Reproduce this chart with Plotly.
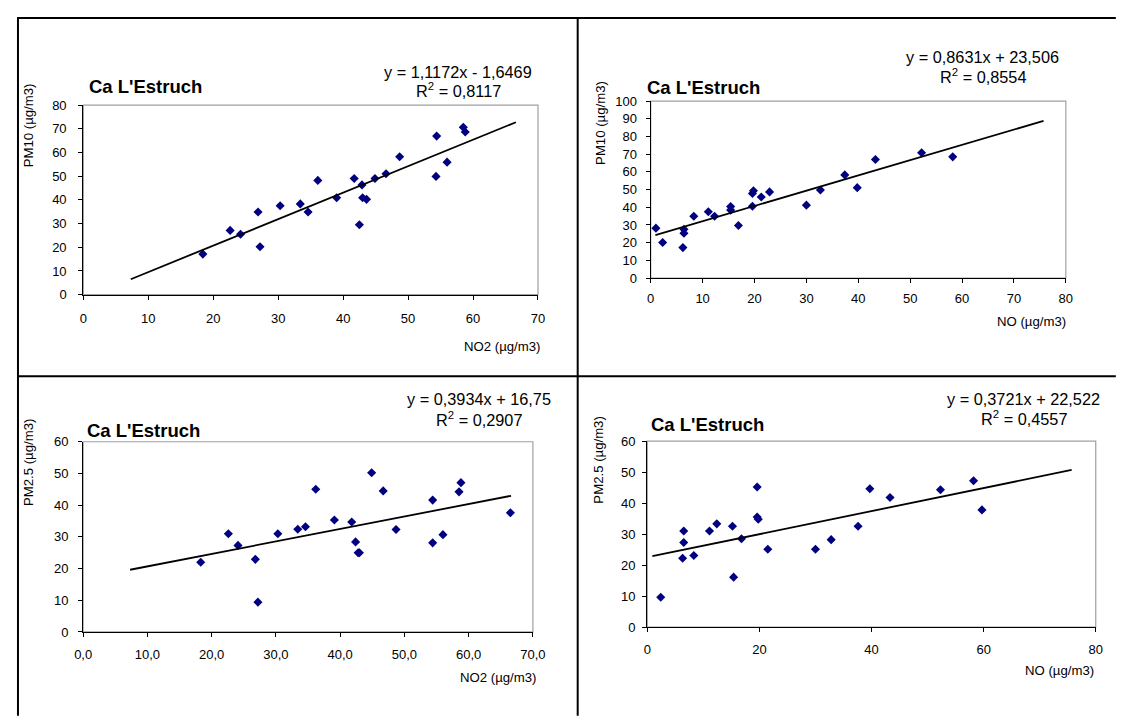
import plotly.graph_objects as go

# The page keeps the browser's default 8 px body margin, so the figure is sized
# to fill the 1129x724 window exactly inside that margin.
PAGE_W, PAGE_H = 1129, 724
OFF = 8
W, H = PAGE_W - 2 * OFF, PAGE_H - 2 * OFF

# ---------------- data ----------------
site = "Ca L'Estruch"

no2_a = [18.4, 22.6, 24.2, 26.9, 27.2, 30.3, 33.4, 34.6, 36.1, 39.0, 41.7, 42.5, 42.9, 43.0, 43.6, 44.9, 46.6, 48.7, 54.3, 54.4, 56.0, 58.5, 58.8]
pm10_a = [17.1, 27.1, 25.5, 34.9, 20.2, 37.5, 38.3, 34.9, 48.2, 40.9, 49.0, 29.5, 46.3, 40.9, 40.2, 49.0, 51.0, 58.2, 49.9, 66.9, 55.9, 70.6, 68.6]

no_b = [1.0, 2.3, 6.2, 6.4, 6.4, 8.3, 11.1, 12.3, 15.4, 15.4, 16.9, 19.6, 19.6, 19.8, 21.3, 22.9, 30.0, 32.7, 37.4, 39.8, 43.3, 52.2, 58.2]
pm10_b = [28.2, 20.1, 17.2, 27.5, 25.3, 34.9, 37.5, 34.9, 40.4, 38.4, 29.7, 40.6, 47.8, 49.3, 45.8, 48.7, 41.2, 49.8, 58.3, 51.1, 67.0, 70.8, 68.5]

no2_c = [18.3, 22.6, 24.1, 26.8, 27.2, 30.3, 33.4, 34.6, 36.2, 39.1, 41.8, 42.4, 42.8, 43.0, 44.9, 46.7, 48.7, 54.4, 54.4, 56.0, 58.5, 58.8, 66.5]
pm25_c = [22.0, 31.0, 27.3, 22.9, 9.4, 31.0, 32.4, 33.2, 45.0, 35.3, 34.7, 28.4, 25.0, 25.0, 50.2, 44.5, 32.3, 41.6, 28.1, 30.7, 44.2, 47.1, 37.6]

no_d = [2.4, 6.3, 6.5, 6.5, 8.3, 11.1, 12.4, 15.2, 15.4, 16.8, 19.6, 19.6, 19.8, 21.5, 30.0, 32.8, 37.6, 39.7, 43.3, 52.3, 58.2, 59.7]
pm25_d = [9.6, 22.2, 27.3, 31.0, 23.1, 31.0, 33.3, 32.5, 16.1, 28.5, 45.2, 35.5, 34.8, 25.1, 25.1, 28.2, 32.5, 44.6, 41.8, 44.3, 47.2, 37.8]

# trend lines (slope, intercept) and x extent
slopes = [1.1172, 0.8631, 0.3934, 0.3721]
intercepts = [-1.6469, 23.506, 16.75, 22.522]
trend_x = [[7.3, 66.6], [0.9, 75.7], [7.3, 66.6], [0.9, 75.7]]
eq_text = ["y = 1,1172x - 1,6469", "y = 0,8631x + 23,506", "y = 0,3934x + 16,75", "y = 0,3721x + 22,522"]
r2_text = ["R<sup>2</sup> = 0,8117", "R<sup>2</sup> = 0,8554", "R<sup>2</sup> = 0,2907", "R<sup>2</sup> = 0,4557"]
x_titles = ["NO2 (µg/m3)", "NO (µg/m3)", "NO2 (µg/m3)", "NO (µg/m3)"]
y_titles = ["PM10 (µg/m3)", "PM10 (µg/m3)", "PM2.5 (µg/m3)", "PM2.5 (µg/m3)"]
x_ranges = [[0, 70], [0, 80], [0, 70], [0, 80]]
y_ranges = [[0, 80], [0, 100], [0, 60], [0, 60]]
x_dticks = [10, 10, 10, 20]
y_dticks = [10, 10, 10, 10]
x_formats = ["d", "d", ".1f", "d"]

# ---------------- layout helpers (page pixel positions) ----------------
def px(x):
    return (x - OFF) / W

def py(y):
    return 1 - (y - OFF) / H

# plot area boxes: left, right, top, bottom (page pixels)
boxes = [
    (75.7, 539.5, 100.0, 293.7),
    (654.5, 1078.0, 96.0, 276.7),
    (75.5, 534.3, 444.0, 638.3),
    (651.0, 1108.5, 443.3, 633.3),
]
x_standoff = [8, 4, 6, 6]
y_standoff = [9, 6, 7, 4]
title_pos = [(79, 81), (649, 82), (77, 433), (653, 426)]
eq_pos = [(458, 66, 85), (993, 51, 70), (479, 400, 421), (1035, 400, 420)]
xt_pos = [(544, 347), (1080, 321), (539, 685), (1109, 678)]
yt_pos = [(20, 121), (603, 118), (20, 465), (601, 463)]

FONT = "Liberation Sans, Arial, sans-serif"
series = [(no2_a, pm10_a), (no_b, pm10_b), (no2_c, pm25_c), (no_d, pm25_d)]

fig = go.Figure()
shapes = []
annotations = []

for i in range(4):
    xa = "x" if i == 0 else f"x{i+1}"
    ya = "y" if i == 0 else f"y{i+1}"
    xs, ys = series[i]
    fig.add_trace(go.Scatter(
        x=xs, y=ys, mode="markers", xaxis=xa, yaxis=ya,
        marker=dict(symbol="diamond", size=7, color="#000080"),
        showlegend=False, hoverinfo="x+y"))
    tx = trend_x[i]
    ty = [slopes[i] * v + intercepts[i] for v in tx]
    fig.add_trace(go.Scatter(
        x=tx, y=ty, mode="lines", xaxis=xa, yaxis=ya,
        line=dict(color="black", width=1.8), showlegend=False, hoverinfo="skip"))

    l, r, t, b = boxes[i]
    axis_common = dict(showgrid=False, zeroline=False, showline=True, linecolor="black",
                       linewidth=1.3, ticks="outside", ticklen=4, tickcolor="black", tickwidth=1,
                       tickfont=dict(family=FONT, size=13, color="black"), fixedrange=True)
    fig.layout[f"xaxis{'' if i == 0 else i+1}"] = dict(
        domain=[px(l), px(r)], anchor=ya, range=x_ranges[i], dtick=x_dticks[i], tick0=0,
        tickformat=x_formats[i], ticklabelstandoff=x_standoff[i], **axis_common)
    fig.layout[f"yaxis{'' if i == 0 else i+1}"] = dict(
        domain=[py(b), py(t)], anchor=xa, range=y_ranges[i], dtick=y_dticks[i], tick0=0,
        ticklabelstandoff=y_standoff[i], **axis_common)

    # grey frame on top/right
    shapes.append(dict(type="rect", xref="paper", yref="paper",
                       x0=px(l), x1=px(r), y0=py(b), y1=py(t),
                       line=dict(color="#a0a0a0", width=1.2), layer="below"))

    # texts
    annotations.append(dict(text=f"<b>{site}</b>", x=px(title_pos[i][0]), y=py(title_pos[i][1]),
                            xref="paper", yref="paper", xanchor="left", yanchor="middle",
                            showarrow=False, font=dict(family=FONT, size=18.5, color="black")))
    ex, ey1, ey2 = eq_pos[i]
    annotations.append(dict(text=eq_text[i], x=px(ex), y=py(ey1), xref="paper", yref="paper",
                            xanchor="center", yanchor="middle", showarrow=False,
                            font=dict(family=FONT, size=16.3, color="black")))
    annotations.append(dict(text=r2_text[i], x=px(ex), y=py(ey2), xref="paper", yref="paper",
                            xanchor="center", yanchor="middle", showarrow=False,
                            font=dict(family=FONT, size=16.3, color="black")))
    annotations.append(dict(text=x_titles[i], x=px(xt_pos[i][0]), y=py(xt_pos[i][1]),
                            xref="paper", yref="paper", xanchor="right", yanchor="middle",
                            showarrow=False, font=dict(family=FONT, size=13.2, color="black")))
    annotations.append(dict(text=y_titles[i], x=px(yt_pos[i][0]), y=py(yt_pos[i][1]),
                            xref="paper", yref="paper", xanchor="center", yanchor="middle",
                            textangle=-90, showarrow=False,
                            font=dict(family=FONT, size=13.2, color="black")))

# table borders
border = dict(color="black", width=2)
shapes += [
    dict(type="line", xref="paper", yref="paper", x0=px(9), x1=px(9), y0=py(11), y1=py(724), line=border),
    dict(type="line", xref="paper", yref="paper", x0=px(8), x1=px(1129), y0=py(11), y1=py(11), line=border),
    dict(type="line", xref="paper", yref="paper", x0=px(580), x1=px(580), y0=py(11), y1=py(724), line=border),
    dict(type="line", xref="paper", yref="paper", x0=px(8), x1=px(1129), y0=py(377), y1=py(377), line=border),
]

fig.update_layout(
    width=W, height=H, autosize=False,
    margin=dict(l=0, r=0, t=0, b=0),
    paper_bgcolor="white", plot_bgcolor="white",
    separators=", ",
    shapes=shapes, annotations=annotations,
    font=dict(family=FONT, color="black"),
    showlegend=False,
)

fig.write_html("out.html", config={"displayModeBar": False})
